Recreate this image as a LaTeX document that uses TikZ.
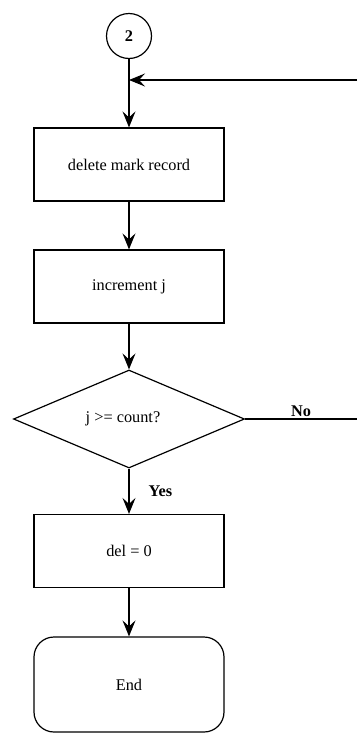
\documentclass[tikz,border=0pt]{standalone}
\usepackage{fontspec}
\setmainfont{Liberation Serif}
\usetikzlibrary{shapes.geometric,arrows.meta}
\begin{document}
\begin{tikzpicture}[x=1pt,y=-1pt,
  every node/.style={font=\fontsize{16.3}{19}\selectfont},
  line/.style={line width=1.2pt},
  flow/.style={line, -{Stealth[length=16pt,width=13pt,inset=6pt]}},
  procbox/.style={draw, line width=1.2pt, minimum width=190pt, minimum height=73pt, inner sep=0pt},
  connector/.style={draw, circle, line width=1.2pt, minimum size=45pt, inner sep=0pt},
  decision/.style={draw, diamond, line width=1.2pt, minimum width=231pt, minimum height=98pt, inner sep=0pt},
  terminal/.style={draw, rounded corners=20pt, line width=1.2pt, minimum width=190pt, minimum height=95pt, inner sep=0pt},
  lbl/.style={font=\fontsize{16.3}{19}\selectfont\bfseries, inner sep=1pt}
]
\useasboundingbox (0,0) rectangle (357,734);

% flow nodes
\node[connector] (c2) at (129,36) {\bfseries 2};
\node[procbox] (del) at (129,164.5) {delete mark record};
\node[procbox] (inc) at (129,286.5) {increment j};
\node[decision] (test) at (129,419) {\hspace*{-12pt}j >= count?};
\node[procbox] (zero) at (129,551) {del = 0};
\node[terminal] (end) at (129,684.5) {End};

% loop-back entry and exit points
\coordinate (loopin) at (357,80);
\coordinate (join) at (129,80);
\coordinate (loopout) at (357,419);

% connectors
\draw[flow] (c2) -- (del);
\draw[flow] (loopin) -- (join);
\draw[flow] (del) -- (inc);
\draw[flow] (inc) -- (test);
\draw[flow] (test) -- node[lbl, pos=0.5, anchor=west, xshift=18pt] {Yes} (zero);
\draw[flow] (zero) -- (end);
\draw[line] (test.east) -- node[lbl, pos=0.5, above, yshift=1pt] {No} (loopout);
\end{tikzpicture}
\end{document}
